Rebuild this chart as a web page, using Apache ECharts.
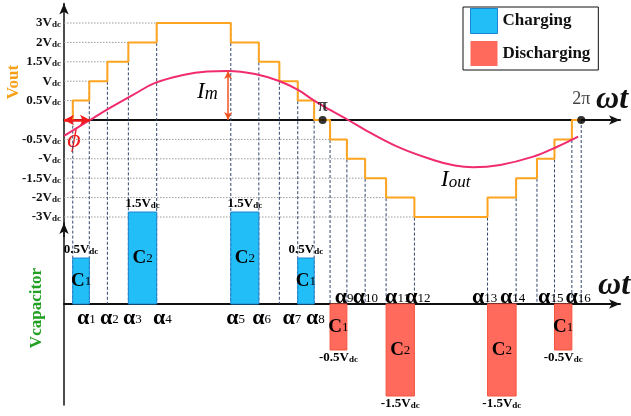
<!DOCTYPE html>
<html>
<head>
<meta charset="utf-8">
<script src="https://cdn.jsdelivr.net/npm/echarts@6/dist/echarts.min.js"></script>
<style>
  html, body { margin: 0; padding: 0; background: #fff; }
  #chart { width: 631px; height: 416px; }
</style>
</head>
<body>
<div id="chart"></div>
<script>
// Seven-level output voltage, load current and capacitor charge/discharge intervals.
// Angles are in degrees of one fundamental period (0..360 = 0..2π).

// Switching angles of the staircase and the output level reached after each one
const switchDeg   = [6.1, 17.6, 30.2, 44.8, 64.5, 116.1, 135.6, 149.9, 162.7, 174.1,
                     185.2, 196.9, 209.6, 224.2, 243.9, 294.8, 314.7, 329.2, 341.4, 353.5];
const switchLevel = [1, 2, 3, 4, 5, 4, 3, 2, 1, 0,
                     -1, -2, -3, -4, -5, -4, -3, -2, -1, 0];

// Output-voltage tick labels for levels -5..5
const voutTickText = ['-3Vdc', '-2Vdc', '-1.5Vdc', '-Vdc', '-0.5Vdc', '',
                      '0.5Vdc', 'Vdc', '1.5Vdc', '2Vdc', '3Vdc'];

// Load current (same level units as the voltage axis)
const ioutDeg = [0, 18.1, 32, 48, 63.4, 82.9, 99.6, 114.2, 133, 149.7, 162.9, 174.1,
                 185.2, 197.8, 211, 234, 257, 272, 284.8, 303.6, 326.6, 343.3, 357.9];
const ioutVal = [-0.82, 0, 0.62, 1.29, 1.91, 2.32, 2.5, 2.53, 2.37, 2.01, 1.55, 1.0,
                 0.52, 0, -0.57, -1.44, -2.06, -2.35, -2.44, -2.32, -1.89, -1.38, -0.86];
const phiDeg = 18.1;

// Capacitor voltage scale and intervals
const capLevels    = ['-1.5Vdc', '-0.5Vdc', '0', '0.5Vdc', '1.5Vdc'];
const capName      = ['C1', 'C2', 'C2', 'C1', 'C1', 'C2', 'C2', 'C1'];
const capFromDeg   = [6.1, 44.8, 116.1, 162.7, 185.2, 224.2, 294.8, 341.4];
const capToDeg     = [17.6, 64.5, 135.6, 174.1, 196.9, 243.9, 314.7, 353.5];
const capVoltage   = ['0.5Vdc', '1.5Vdc', '1.5Vdc', '0.5Vdc', '-0.5Vdc', '-1.5Vdc', '-1.5Vdc', '-0.5Vdc'];

// Angles named α1..α16
const alphaDeg = [9, 25, 41, 62, 113, 131, 152, 168.5, 188.5, 201, 223.5, 237.5, 284, 303.5, 330, 349];

// ---- layout ----
const SERIF = '"Liberation Serif", "Times New Roman", serif';
const W = 631;
const LEFT = 64, RIGHT_EDGE = 620, X_MAX = 387;
const TOP_ZERO = 120, LEVEL_PX = 19.4;
const BOT_TOP = 223, BOT_ZERO = 304, BOT_BOTTOM = 405;
const BAR_TOP = 212, BAR_BOTTOM = 396;
const DROP_BOTTOM = -(BOT_ZERO - TOP_ZERO) / LEVEL_PX;

const ORANGE = '#FFA41F', PINK = '#F02C6E', GREEN = '#22A022';

function vdcRich(t) {
  return t ? '{a|' + t.slice(0, -2) + '}{s|dc}' : '';
}

// step data
const voutData = [[0, 0]];
switchDeg.forEach((d, i) => voutData.push([d, switchLevel[i]]));
voutData.push([360, 0]);

// dotted guides: from the axis to the first switch reaching each level
const guideData = [];
switchLevel.forEach((L, i) => {
  if (L !== 0 && !guideData.some(g => g[1] === L)) guideData.push([switchDeg[i], L]);
});

// dashed drops from the upper corner of each switch to the capacitor axis
const dropData = switchDeg.map((d, i) => [d, Math.max(i ? switchLevel[i - 1] : 0, switchLevel[i])]);
dropData.push([360, 0]);

const ioutData = ioutDeg.map((d, i) => [d, ioutVal[i]]);
const imIdx = ioutVal.indexOf(Math.max.apply(null, ioutVal));

const barRows = capName.map((n, i) => [capFromDeg[i], capToDeg[i], capLevels.indexOf(capVoltage[i]), i]);
const chargeRows = barRows.filter(r => capVoltage[r[3]][0] !== '-');
const dischargeRows = barRows.filter(r => capVoltage[r[3]][0] === '-');

const labelRich = {
  a: { fontFamily: SERIF, fontWeight: 'bold', fontSize: 13, color: '#111', verticalAlign: 'bottom' },
  s: { fontFamily: SERIF, fontWeight: 'bold', fontSize: 9, color: '#111', verticalAlign: 'bottom' }
};
const greenRich = {
  a: { fontFamily: SERIF, fontWeight: 'bold', fontSize: 13, color: GREEN, verticalAlign: 'bottom' },
  s: { fontFamily: SERIF, fontWeight: 'bold', fontSize: 9, color: GREEN, verticalAlign: 'bottom' }
};
const capRich = {
  c: { fontFamily: SERIF, fontWeight: 'bold', fontSize: 19, color: '#111', verticalAlign: 'bottom' },
  n: { fontFamily: SERIF, fontSize: 13, color: '#111', verticalAlign: 'bottom', padding: [0, 0, 2, 0] }
};
const alphaRich = {
  a: { fontFamily: SERIF, fontWeight: 'bold', fontSize: 22, color: '#111', verticalAlign: 'bottom' },
  s: { fontFamily: SERIF, fontSize: 13, color: '#111', verticalAlign: 'bottom', padding: [0, 0, 3, 0] }
};

function barRender(fill, stroke) {
  return function (params, api) {
    const i = api.value(3);
    const p0 = api.coord([api.value(0), capLevels.indexOf('0')]);
    const p1 = api.coord([api.value(1), api.value(2)]);
    const x = p0[0], w = p1[0] - p0[0];
    const yTop = Math.min(p0[1], p1[1]), h = Math.abs(p1[1] - p0[1]);
    const up = p1[1] < p0[1];
    const cx = x + w / 2;
    return {
      type: 'group',
      children: [
        { type: 'rect', shape: { x: x, y: yTop, width: w, height: h },
          style: { fill: fill, stroke: stroke, lineWidth: 1 } },
        { type: 'text', x: cx, y: yTop + h / 2,
          style: { text: '{c|' + capName[i][0] + '}{n|' + capName[i].slice(1) + '}', rich: capRich,
                   textAlign: 'center', textVerticalAlign: 'middle', align: 'center', verticalAlign: 'middle' } },
        { type: 'text', x: cx, y: up ? p1[1] - 8 : p1[1] + 8,
          style: { text: vdcRich(capVoltage[i]), rich: greenRich,
                   textAlign: 'center', textVerticalAlign: 'middle', align: 'center', verticalAlign: 'middle' } }
      ]
    };
  };
}

const axisArrow = { show: true, symbol: ['none', 'arrow'], symbolSize: [7, 11], lineStyle: { color: '#111', width: 2 } };

const option = {
  animation: false,
  backgroundColor: '#fff',
  grid: [
    { left: LEFT, right: W - RIGHT_EDGE, top: TOP_ZERO - 6 * LEVEL_PX, height: 12 * LEVEL_PX },
    { left: LEFT, right: W - RIGHT_EDGE, top: BOT_TOP, height: BOT_BOTTOM - BOT_TOP },
    { left: LEFT, right: W - RIGHT_EDGE, top: BAR_TOP, height: BAR_BOTTOM - BAR_TOP }
  ],
  xAxis: [
    { gridIndex: 0, type: 'value', min: 0, max: X_MAX, axisLine: axisArrow,
      axisTick: { show: false }, axisLabel: { show: false }, splitLine: { show: false } },
    { gridIndex: 1, type: 'value', min: 0, max: X_MAX, axisLine: axisArrow,
      axisTick: { show: false }, axisLabel: { show: false }, splitLine: { show: false } },
    { gridIndex: 2, type: 'value', min: 0, max: X_MAX, show: false }
  ],
  yAxis: [
    { gridIndex: 0, type: 'value', min: -6, max: 6, interval: 1,
      axisLine: { show: true, symbol: ['none', 'arrow'], symbolSize: [7, 11], lineStyle: { color: '#111', width: 1.5 } },
      axisTick: { show: false }, splitLine: { show: false },
      axisLabel: { margin: 3, rich: labelRich,
        formatter: v => (v >= -5 && v <= 5) ? vdcRich(voutTickText[v + 5]) : '' } },
    { gridIndex: 1, type: 'value', min: -(BOT_BOTTOM - BOT_ZERO), max: BOT_ZERO - BOT_TOP,
      axisLine: { show: true, symbol: ['none', 'arrow'], symbolSize: [7, 11], lineStyle: { color: '#111', width: 1.5 } },
      axisTick: { show: false }, axisLabel: { show: false }, splitLine: { show: false } },
    { gridIndex: 2, type: 'category', data: capLevels, boundaryGap: false, show: false }
  ],
  legend: {
    orient: 'vertical', left: 463, top: 7,
    padding: [1, 8, 4, 7], itemWidth: 27, itemHeight: 25, itemGap: 7,
    borderColor: '#111', borderWidth: 1, backgroundColor: '#fff',
    textStyle: { fontFamily: SERIF, fontWeight: 'bold', fontSize: 17, color: '#111' },
    data: [
      { name: 'Charging', icon: 'rect', itemStyle: { color: '#22BEF8', borderColor: '#1B86D0', borderWidth: 1 } },
      { name: 'Discharging', icon: 'rect', itemStyle: { color: '#FF6A5C', borderColor: '#FF6A5C', borderWidth: 0 } }
    ]
  },
  series: [
    { type: 'custom', name: 'guides', xAxisIndex: 0, yAxisIndex: 0, clip: false, silent: true, z: 1,
      encode: { x: 0, y: 1 }, data: guideData,
      renderItem: (params, api) => {
        const a = api.coord([0, api.value(1)]);
        const b = api.coord([api.value(0), api.value(1)]);
        return { type: 'line', shape: { x1: a[0], y1: a[1], x2: b[0], y2: b[1] },
                 style: { stroke: '#9a9a9a', lineWidth: 1, lineDash: [1.5, 1.5] } };
      } },
    { type: 'custom', name: 'drops', xAxisIndex: 0, yAxisIndex: 0, clip: false, silent: true, z: 1,
      encode: { x: 0, y: 1 }, data: dropData,
      renderItem: (params, api) => {
        const a = api.coord([api.value(0), api.value(1)]);
        const b = api.coord([api.value(0), DROP_BOTTOM]);
        return { type: 'line', shape: { x1: a[0], y1: a[1], x2: b[0], y2: b[1] },
                 style: { stroke: '#34466e', lineWidth: 1, lineDash: [3, 2] } };
      } },
    { type: 'line', name: 'Vout', xAxisIndex: 0, yAxisIndex: 0, step: 'end', data: voutData,
      symbol: 'none', z: 3, lineStyle: { color: ORANGE, width: 2 } },
    { type: 'line', name: 'Iout', xAxisIndex: 0, yAxisIndex: 0, data: ioutData, smooth: 0.4,
      symbol: 'none', z: 4, lineStyle: { color: PINK, width: 2 },
      markLine: {
        silent: true, animation: false, label: { show: false },
        data: [
          [ { coord: [ioutDeg[imIdx], 0], symbol: 'arrow', symbolSize: [6, 8],
              lineStyle: { color: '#EE5522', width: 1.5, type: 'solid' } },
            { coord: [ioutDeg[imIdx], ioutVal[imIdx]], symbol: 'arrow', symbolSize: [6, 8] } ],
          [ { coord: [0, 0], symbol: 'arrow', symbolSize: [8, 10],
              lineStyle: { color: '#F21B1B', width: 2.5, type: 'solid' } },
            { coord: [phiDeg, 0], symbol: 'arrow', symbolSize: [8, 10] } ]
        ]
      } },
    { type: 'scatter', name: 'marks', xAxisIndex: 0, yAxisIndex: 0, symbolSize: 8, z: 5, silent: true,
      itemStyle: { color: '#000' },
      label: { show: true, position: 'inside', formatter: p => p.name,
               fontFamily: SERIF, fontSize: 18, color: '#111' },
      data: [
        { name: 'π', value: [180, 0], label: { offset: [0, -14], fontWeight: 'bold' } },
        { name: '2π', value: [360, 0], label: { offset: [0, -21] } }
      ] },
    { type: 'custom', name: 'Charging', xAxisIndex: 2, yAxisIndex: 2, clip: false, z: 6,
      itemStyle: { color: '#22BEF8' }, encode: { x: [0, 1], y: 2 },
      data: chargeRows, renderItem: barRender('#22BEF8', '#1B86D0') },
    { type: 'custom', name: 'Discharging', xAxisIndex: 2, yAxisIndex: 2, clip: false, z: 6,
      itemStyle: { color: '#FF6A5C' }, encode: { x: [0, 1], y: 2 },
      data: dischargeRows, renderItem: barRender('#FF6A5C', '#F5553F') },
    { type: 'custom', name: 'alphas', xAxisIndex: 1, yAxisIndex: 1, clip: false, silent: true, z: 7,
      encode: { x: 0 }, data: alphaDeg.map((d, i) => [d, i + 1]),
      renderItem: (params, api) => {
        const d = api.value(0);
        const p = api.coord([d, 0]);
        const below = d < 180;
        return { type: 'text', x: p[0], y: below ? p[1] + 14 : p[1] - 7,
          style: { text: '{a|α}{s|' + api.value(1) + '}', rich: alphaRich,
                   textAlign: 'left', textVerticalAlign: 'middle', align: 'left', verticalAlign: 'middle' } };
      } }
  ],
  graphic: [
    { type: 'text', x: 14, y: 82, rotation: Math.PI / 2, silent: true,
      style: { text: 'Vout', font: 'bold 17px ' + SERIF, fill: '#F7A11A',
               textAlign: 'center', textVerticalAlign: 'middle', align: 'center', verticalAlign: 'middle' } },
    { type: 'text', x: 37, y: 308, rotation: Math.PI / 2, silent: true,
      style: { text: 'Vcapacitor', font: 'bold 17px ' + SERIF, fill: GREEN,
               textAlign: 'center', textVerticalAlign: 'middle', align: 'center', verticalAlign: 'middle' } },
    { type: 'text', x: 197, y: 92, silent: true,
      style: { text: '{i|I}{m|m}',
               rich: { i: { fontFamily: SERIF, fontStyle: 'italic', fontSize: 23, color: PINK, verticalAlign: 'bottom' },
                       m: { fontFamily: SERIF, fontStyle: 'italic', fontSize: 18, color: PINK, verticalAlign: 'bottom' } },
               textAlign: 'left', textVerticalAlign: 'middle', align: 'left', verticalAlign: 'middle' } },
    { type: 'text', x: 441, y: 180, silent: true,
      style: { text: '{i|I}{m|out}',
               rich: { i: { fontFamily: SERIF, fontStyle: 'italic', fontSize: 23, color: PINK, verticalAlign: 'bottom' },
                       m: { fontFamily: SERIF, fontStyle: 'italic', fontSize: 17, color: PINK, verticalAlign: 'bottom' } },
               textAlign: 'left', textVerticalAlign: 'middle', align: 'left', verticalAlign: 'middle' } },
    { type: 'text', x: 74, y: 140, silent: true,
      style: { text: 'ϕ', font: 'italic 26px ' + SERIF, fill: '#F21B1B',
               textAlign: 'center', textVerticalAlign: 'middle', align: 'center', verticalAlign: 'middle' } },
    { type: 'text', x: 612, y: 100, silent: true,
      style: { text: 'ωt', font: 'italic bold 32px ' + SERIF, fill: '#111',
               textAlign: 'center', textVerticalAlign: 'middle', align: 'center', verticalAlign: 'middle' } },
    { type: 'text', x: 614, y: 286, silent: true,
      style: { text: 'ωt', font: 'italic bold 32px ' + SERIF, fill: '#111',
               textAlign: 'center', textVerticalAlign: 'middle', align: 'center', verticalAlign: 'middle' } }
  ]
};

const chart = echarts.init(document.getElementById('chart'), null, { renderer: 'canvas' });
chart.setOption(option);
</script>
</body>
</html>
